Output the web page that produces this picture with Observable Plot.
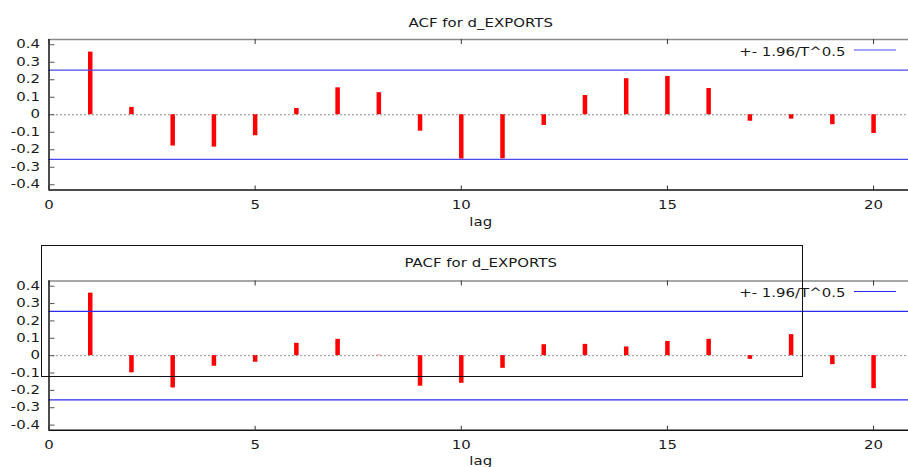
<!DOCTYPE html>
<html><head><meta charset="utf-8">
<script src="https://cdn.jsdelivr.net/npm/d3@7"></script>
<script src="https://cdn.jsdelivr.net/npm/@observablehq/plot@0.6"></script>
<style>
body{margin:0;background:#fff;}
#chart{position:relative;width:908px;height:467px;overflow:hidden;background:#fff;}
#chart svg{display:block;}
</style></head><body><div id="chart"></div>
<script>
const lags = [1,2,3,4,5,6,7,8,9,10,11,12,13,14,15,16,17,18,19,20];
const acfValues = [0.358,0.042,-0.179,-0.185,-0.120,0.036,0.154,0.126,-0.094,-0.253,-0.252,-0.061,0.110,0.206,0.219,0.150,-0.037,-0.025,-0.057,-0.107];
const pacfValues = [0.360,-0.099,-0.186,-0.061,-0.038,0.071,0.094,0.002,-0.176,-0.159,-0.073,0.063,0.065,0.050,0.082,0.094,-0.021,0.121,-0.052,-0.190];
const bandValue = 0.255;
const yTicks = [0.4,0.3,0.2,0.1,0,-0.1,-0.2,-0.3,-0.4];
const xTicks = [0,5,10,15,20];
const titles = ["ACF for d_EXPORTS","PACF for d_EXPORTS"];
const xLabel = "lag";
const legendLabel = "+- 1.96/T^0.5";

const SX = 1.3;
const fmt = d => String(Math.round(d*10)/10);
const root = document.getElementById("chart");

function panel({values, title, height, marginTop, marginBottom, bandColor, titleDy, labelDy}) {
  const data = lags.map((lag,i)=>({lag, value: values[i]}));
  const yDomain = [-0.43, 0.43];
  const plot = Plot.plot({
    width: 908, height, marginTop, marginBottom, marginLeft: 48.5, marginRight: 0,
    x: {domain:[0,21], range:[48.5, 914.3]},
    y: {domain: yDomain},
    style: {fontFamily:"'DejaVu Sans', sans-serif", fontSize:"11.5px", color:"#1a1a1a", background:"white"},
    marks: [
      Plot.ruleY([0], {stroke:"#222", strokeDasharray:"1,3"}),
      Plot.ruleX(data, {x:"lag", y1:0, y2:"value", stroke:"#ff0000", strokeWidth:4.5}),
      Plot.ruleY([bandValue, -bandValue], {stroke: bandColor, strokeWidth:1.2}),
      Plot.ruleY([yDomain[1]], {stroke:"#8a8a8a", strokeWidth:1.5}),
      Plot.ruleY([yDomain[0]], {stroke:"#111", strokeWidth:1.5}),
      Plot.ruleX([0], {stroke:"#111", strokeWidth:1.5}),
      Plot.axisY({ticks:yTicks, anchor:"left", tickSize:0, tickPadding:9, tickFormat: fmt, label:null}),
      Plot.axisY({ticks:yTicks, anchor:"right", frameAnchor:"left", tickSize:5, tickFormat: ()=>"", label:null, stroke:"#555"}),
      Plot.axisX({ticks:xTicks, anchor:"bottom", tickSize:0, tickPadding:10.5, label:null}),
      Plot.axisX({ticks:xTicks, anchor:"top", frameAnchor:"bottom", tickSize:5, tickFormat: ()=>"", label:null, stroke:"#333"}),
      Plot.axisX({ticks:xTicks, anchor:"bottom", frameAnchor:"top", tickSize:5, tickFormat: ()=>"", label:null, stroke:"#333"}),
      Plot.text([title], {frameAnchor:"top", dy:titleDy, dx:2}),
      Plot.text([xLabel], {frameAnchor:"bottom", dy:labelDy, dx:2}),
      Plot.text([legendLabel], {frameAnchor:"top-right", dx:-63, dy:8, textAnchor:"end"})
    ]
  });
  root.appendChild(plot);
  const svg = d3.select(plot);
  svg.selectAll("text").each(function(){
    if (!this.textContent) return;
    const bb = this.getBBox();
    const anchor = getComputedStyle(this).textAnchor;
    const ax = anchor === "end" ? bb.x + bb.width : anchor === "middle" ? bb.x + bb.width/2 : bb.x;
    const tr = this.getAttribute("transform") || "";
    this.setAttribute("transform", `${tr} translate(${ax},0) scale(${SX},1) translate(${-ax},0)`);
  });
  svg.append("line").attr("x1",854).attr("x2",896)
    .attr("y1",marginTop+11).attr("y2",marginTop+11)
    .attr("stroke",bandColor).attr("stroke-width",1.2);
  return plot;
}

panel({values:acfValues, title:titles[0], height:234, marginTop:39, marginBottom:44.5, bandColor:"#4a4aee", titleDy:-21, labelDy:35.5});
const bottom = panel({values:pacfValues, title:titles[1], height:233, marginTop:46.5, marginBottom:37.2, bandColor:"#2a2af0", titleDy:-22, labelDy:34.5});
d3.select(bottom).append("rect").attr("x",41.5).attr("y",11.5).attr("width",761).attr("height",131)
  .attr("fill","none").attr("stroke","#111").attr("stroke-width",1);
</script>
</body></html>
